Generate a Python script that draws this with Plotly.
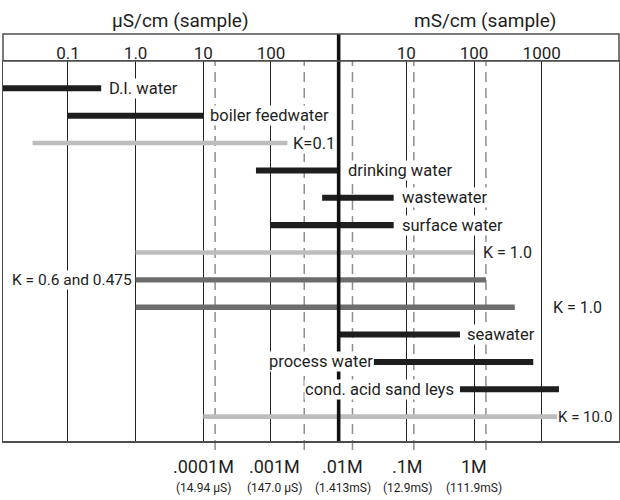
import numpy as np
import plotly.graph_objects as go

# ---------------- data (conductivity in µS/cm) ----------------
row_labels = ["D.I. water", "boiler feedwater", "K=0.1", "drinking water", "wastewater",
              "surface water", "K = 1.0", "K = 0.6 and 0.475", "K = 1.0", "seawater",
              "process water", "cond. acid sand leys", "K = 10.0"]
range_lo = [0.01, 0.1, 0.03, 60, 570, 100, 1, 1, 1, 1000, 3300, 62000, 10]
range_hi = [0.31, 10, 175, 1000, 6500, 6500, 1e5, 1.5e5, 4e5, 62000, 7.5e5, 1.8e6, 1.7e6]
row_kind = ["sample", "sample", "cell", "sample", "sample", "sample", "cell",
            "cellK", "cellK", "sample", "sample", "sample", "cell"]

tick_vals = [0.1, 1, 10, 100, 1e4, 1e5, 1e6]
tick_text = ["0.1", "1.0", "10", "100", "10", "100", "1000"]
unit_divider = 1000  # 1 mS/cm

molar_marks = [14.94, 310, 1600, 12900, 150000]
molar_labels = [".0001M", ".001M", ".01M", ".1M", "1M"]
molar_cond = ["(14.94 µS)", "(147.0 µS)", "(1.413mS)", "(12.9mS)", "(111.9mS)"]

# ---------------- styling ----------------
FONT = "Roboto, Liberation Sans, sans-serif"
TXT = "#1e1e1e"
kind_style = {"sample": ("#1e1e1e", 0.22), "cell": ("#bdbdbd", 0.17), "cellK": ("#6d6d6d", 0.20)}
# label placement: side, gap in px, font size
label_side = ["right", "right", "right", "right", "right", "right", "right",
              "left", "far", "right", "left", "left", "right"]
label_gap = [7, 6, 5, 8, 7, 7, 8, 3, 10, 6, 0, 5, 0]
label_size = [16.5, 16.5, 16.5, 16.5, 16.5, 16.5, 16, 15.5, 16, 16.5, 16.5, 16.5, 15]
molar_label_at = [10, 100, 1000, 1e4, 1e5]
molar_shift = [0, 4, 4, 1, 0]

W, H = 620, 500
ML, MR, MT, MB = 3, 1, 61, 59
plot_h = H - MT - MB
head_top = 1 + 27 / plot_h  # header row height in paper units

fig = go.Figure()
rows = list(range(len(row_labels)))
for kind, (color, width) in kind_style.items():
    idx = [i for i in rows if row_kind[i] == kind]
    fig.add_trace(go.Bar(
        orientation="h",
        y=[rows[i] for i in idx],
        base=[range_lo[i] for i in idx],
        x=[range_hi[i] - range_lo[i] for i in idx],
        width=width,
        marker=dict(color=color, line=dict(width=0)),
        hoverinfo="skip", showlegend=False,
    ))

shapes = []
for v in molar_marks:
    shapes.append(dict(type="line", xref="x", yref="paper", x0=v, x1=v, y0=-9 / plot_h, y1=1,
                       line=dict(color="#8e8e8e", width=1.5, dash="10px,6px"), layer="below"))
shapes.append(dict(type="line", xref="x", yref="paper", x0=unit_divider, x1=unit_divider,
                   y0=0, y1=head_top, line=dict(color="#111111", width=3.6), layer="above"))
shapes.append(dict(type="rect", xref="paper", yref="paper", x0=0, x1=1, y0=1, y1=head_top,
                   line=dict(color="#4d4d4d", width=1.5), fillcolor="rgba(0,0,0,0)", layer="above"))

ann = []
for i, lab in enumerate(row_labels):
    side = label_side[i]
    if side == "right":
        x, xa, xs = np.log10(range_hi[i]), "left", label_gap[i]
    elif side == "left":
        x, xa, xs = np.log10(range_lo[i]), "right", -label_gap[i]
    else:
        x, xa, xs = np.log10(tick_vals[-1]), "left", label_gap[i]
    ann.append(dict(x=x, y=rows[i], xref="x", yref="y", text=lab, showarrow=False,
                    xanchor=xa, yanchor="middle", xshift=xs, bgcolor="white", borderpad=0,
                    font=dict(family=FONT, size=label_size[i], color=TXT)))

# header titles
title_y = 1 + (441 - 20 - plot_h) / plot_h
ann.append(dict(x=(180 - ML) / (W - ML - MR), y=title_y,
                xref="paper", yref="paper", text="µS/cm (sample)", showarrow=False,
                xanchor="center", yanchor="middle", font=dict(family=FONT, size=19, color=TXT)))
ann.append(dict(x=(485 - ML) / (W - ML - MR), y=title_y,
                xref="paper", yref="paper", text="mS/cm (sample)", showarrow=False,
                xanchor="center", yanchor="middle", font=dict(family=FONT, size=19, color=TXT)))

for i in range(len(molar_labels)):
    ann.append(dict(x=np.log10(molar_label_at[i]), y=-25.7 / plot_h, xref="x", yref="paper",
                    text=molar_labels[i], showarrow=False, xanchor="center", yanchor="middle",
                    xshift=molar_shift[i], font=dict(family=FONT, size=18, color=TXT)))
    ann.append(dict(x=np.log10(molar_label_at[i]), y=-47.3 / plot_h, xref="x", yref="paper",
                    text=molar_cond[i], showarrow=False, xanchor="center", yanchor="middle",
                    xshift=molar_shift[i], font=dict(family=FONT, size=12, color=TXT)))

fig.update_layout(
    width=W, height=H, autosize=False,
    margin=dict(l=ML, r=MR, t=MT, b=MB, pad=0),
    paper_bgcolor="white", plot_bgcolor="rgba(0,0,0,0)",
    barmode="overlay", showlegend=False, hovermode=False,
    shapes=shapes, annotations=ann,
    xaxis=dict(type="log", range=[-1.9595, 7.1421], side="top", automargin=False,
               tickmode="array", tickvals=tick_vals, ticktext=tick_text, ticks="",
               ticklabelstandoff=-6,
               tickfont=dict(family=FONT, size=17, color=TXT),
               showgrid=True, gridcolor="#222222", gridwidth=1,
               showline=True, mirror=True, linecolor="#4d4d4d", linewidth=1.5,
               zeroline=False, fixedrange=True),
    yaxis=dict(range=[12.888, -0.9975], showgrid=False, zeroline=False, automargin=False,
               showticklabels=False, ticks="", showline=True, mirror=True,
               linecolor="#4d4d4d", linewidth=1.5, fixedrange=True),
)

# remove the browser's default page margin so the 620x500 figure fills the window
fig.write_html("out.html", config={"displayModeBar": False, "staticPlot": True},
               post_script="document.body.style.margin='0px';")
